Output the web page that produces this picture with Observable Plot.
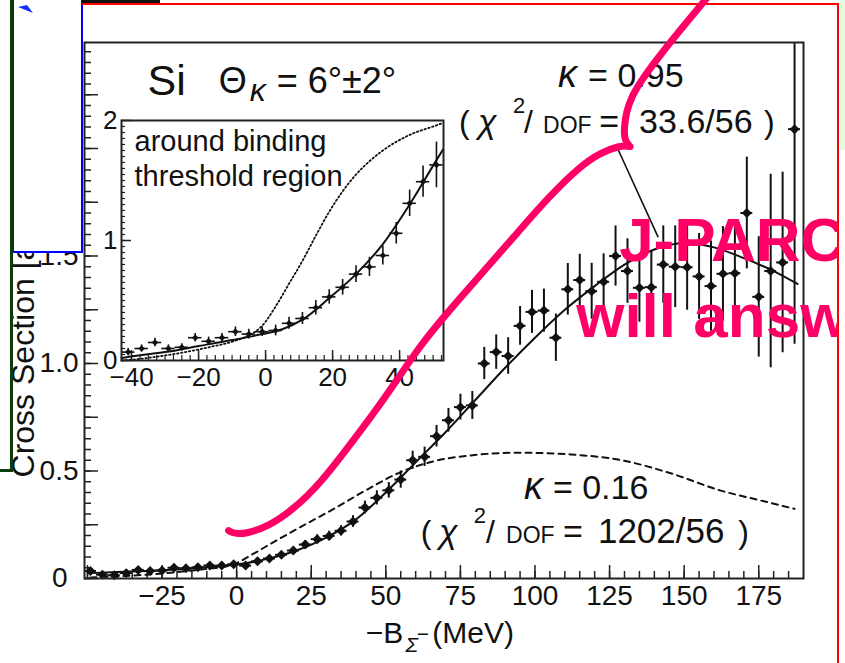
<!DOCTYPE html>
<html><head><meta charset="utf-8">
<script src="https://cdn.jsdelivr.net/npm/d3@7"></script>
<script src="https://cdn.jsdelivr.net/npm/@observablehq/plot@0.6"></script>
<style>
html,body{margin:0;padding:0;background:#fff;}
#wrap{position:relative;width:845px;height:663px;overflow:hidden;background:#fff;}
.deco{position:absolute;box-sizing:border-box;}
</style></head><body><div id="wrap"></div>
<script>
const FONT = "'Liberation Sans', Arial, Helvetica, sans-serif";

// ---- main spectrum (bin centre MeV, cross section, error) ----
const xMain = [-49,-45,-41,-37,-33,-29,-25,-21,-17,-13,-9,-5,-1,3,7,11,15,19,23,27,31,35,39,43,47,51,55,59,63,67,71,75,79,83,87,91,95,99,103,107,111,115,119,123,127,131,135,139,143,147,151,155,159,163,167,171,175,179,183,187];
const yMain = [0.035,0.018,0.015,0.025,0.04,0.035,0.037,0.05,0.048,0.052,0.06,0.06,0.066,0.06,0.08,0.093,0.11,0.13,0.158,0.183,0.198,0.222,0.265,0.33,0.375,0.41,0.46,0.55,0.566,0.662,0.736,0.797,0.805,1.0,1.053,1.035,1.175,1.24,1.246,1.12,1.345,1.388,1.336,1.38,1.5,1.43,1.352,1.355,1.46,1.45,1.448,1.405,1.36,1.417,1.42,1.7,1.31,1.43,1.47,2.09];
const eMain = [0.012,0.01,0.01,0.01,0.011,0.011,0.011,0.012,0.012,0.012,0.012,0.012,0.012,0.013,0.014,0.015,0.015,0.016,0.018,0.02,0.022,0.024,0.027,0.03,0.033,0.036,0.04,0.042,0.045,0.05,0.055,0.06,0.065,0.075,0.08,0.085,0.09,0.1,0.1,0.11,0.12,0.12,0.13,0.13,0.14,0.15,0.16,0.17,0.18,0.19,0.2,0.2,0.21,0.22,0.23,0.26,0.28,0.45,0.42,1.0];

// fit curves (main)
const fitSolidX = [-49,-40,-30,-20,-10,0,10,20,30,40,50,60,70,80,90,100,110,120,130,140,150,160,170,180,188];
const fitSolidY = [0.025,0.03,0.035,0.042,0.052,0.065,0.09,0.13,0.19,0.275,0.4,0.54,0.68,0.83,0.98,1.12,1.25,1.36,1.46,1.53,1.56,1.54,1.49,1.43,1.37];
const fitDashX = [-49,-40,-30,-20,-10,-3,0,5,10,15,21.5,32.7,43.9,55,66,78,95,112,129,146,162,175,187];
const fitDashY = [0.005,0.01,0.018,0.03,0.045,0.058,0.072,0.11,0.15,0.19,0.24,0.325,0.415,0.495,0.545,0.572,0.585,0.577,0.55,0.487,0.41,0.365,0.324];

// ---- inset (threshold region) ----
const xInset = [-41,-37,-33,-29,-25,-21,-17,-13,-9,-5,-1,3,7,11,15,19,23,27,31,35,39,43,47,51];
const yInset = [0.07,0.10,0.15,0.10,0.11,0.19,0.16,0.19,0.24,0.22,0.24,0.25,0.31,0.35,0.44,0.53,0.61,0.72,0.78,0.875,1.06,1.31,1.49,1.63];
const eInset = [0.03,0.03,0.035,0.03,0.03,0.035,0.035,0.035,0.04,0.04,0.04,0.045,0.05,0.05,0.06,0.06,0.065,0.07,0.08,0.08,0.09,0.11,0.13,0.19];
const inSolidX = [-43,-41,-30,-20,-10,-1,5,11,19,27,35,43,51,53];
const inSolidY = [0.02,0.03,0.07,0.12,0.17,0.22,0.26,0.34,0.52,0.72,0.97,1.3,1.67,1.76];
const inDotX = [-43,-37,-33,-25,-17,-9,-5,-1,3,7,11,15,19,23,27,31,35,43,51,53];
const inDotY = [0,0.015,0.03,0.065,0.11,0.165,0.21,0.29,0.45,0.64,0.83,1.04,1.24,1.41,1.55,1.66,1.75,1.88,1.96,1.98];

// tick labels
const xTickLabels = [-25,0,25,50,75,100,125,150,175];
const yTickLabels = [0.5,1.0,1.5,2.0];
const insetXLabels = [-40,-20,0,20,40];
const insetYLabels = [0,1,2];

// annotation pointer line and hand-drawn pink stroke (main-chart coordinates)
const pointerX = [127.7, 141.2];
const pointerY = [2.0, 1.59];
const pinkX = [-2.7,-1.5,0.5,3.0,10.4,19.1,28.2,38.3,49.3,61.7,71.8,81.9,93.0,104.4,115.4,122.1,128.2,131.5,132.3,130.3,129.9,130.0,130.5,132.6,135.6,142.3,151.3,159.7];
const pinkY = [0.223,0.213,0.208,0.209,0.24,0.322,0.445,0.628,0.83,1.09,1.255,1.415,1.59,1.772,1.921,1.981,2.012,2.012,2.005,2.03,2.07,2.1,2.167,2.247,2.316,2.442,2.595,2.735];

const W = 845, H = 663;
const wrap = document.getElementById("wrap");
const zip = (xs, ys) => xs.map((x, i) => ({x, y: ys[i]}));
const mainRows = xMain.map((x, i) => ({x, y: yMain[i], e: eMain[i]}));
const insetRows = xInset.map((x, i) => ({x, y: yInset[i], e: eInset[i]}));
const INK = "#111";

const T = (text, x, y, size, o = {}) => Plot.text([text], {
  x, y, text: d => d, fontSize: size, textAnchor: "start", lineAnchor: "bottom",
  fill: INK, fontFamily: FONT, ...o
});

function place(svg) {
  svg.style.position = "absolute"; svg.style.left = "0px"; svg.style.top = "0px";
  wrap.appendChild(svg);
}

// ---------- main chart ----------
const mL = 84, mR = 42, mT = 42, mB = 85;
const iw = W - mL - mR, ih = H - mT - mB;
const mainPlot = Plot.plot({
  width: W, height: H, marginLeft: mL, marginRight: mR, marginTop: mT, marginBottom: mB,
  x: {domain: [-51, 190]}, y: {domain: [0, 2.493]},
  style: {background: "transparent", overflow: "visible", fontFamily: FONT, color: INK},
  marks: [
    Plot.tickX(d3.range(-50, 190, 5), {x: d => d, insetTop: ih - 7, stroke: "#222", strokeWidth: 1.5}),
    Plot.tickX(d3.range(-50, 190, 25), {x: d => d, insetTop: ih - 13, stroke: "#222", strokeWidth: 1.5}),
    Plot.tickY(d3.range(0, 2.49, 0.05), {y: d => d, insetRight: iw - 7, stroke: "#222", strokeWidth: 1.5}),
    Plot.tickY(d3.range(0, 2.49, 0.25), {y: d => d, insetRight: iw - 14, stroke: "#222", strokeWidth: 1.5}),
    Plot.line(zip(fitDashX, fitDashY), {x: "x", y: "y", stroke: INK, strokeWidth: 2, strokeDasharray: "6,5", curve: "monotone-x"}),
    Plot.line(zip(fitSolidX, fitSolidY), {x: "x", y: "y", stroke: INK, strokeWidth: 2, curve: "monotone-x"}),
    Plot.line(zip(pointerX, pointerY), {x: "x", y: "y", stroke: INK, strokeWidth: 1.6}),
    Plot.ruleX(mainRows, {x: "x", y1: d => d.y - d.e, y2: d => d.y + d.e, stroke: INK, strokeWidth: 2, clip: true}),
    Plot.ruleY(mainRows, {y: "y", x1: d => d.x - 2, x2: d => d.x + 2, stroke: INK, strokeWidth: 2, clip: true}),
    Plot.dot(mainRows, {x: "x", y: "y", symbol: "diamond2", r: 4.5, fill: INK, stroke: "none"}),
    Plot.frame({stroke: "#222", strokeWidth: 2}),
    Plot.axisX({ticks: xTickLabels, tickSize: 0, tickPadding: 7, fontSize: 28, label: null}),
    Plot.axisY({ticks: yTickLabels, tickSize: 0, tickPadding: 6, fontSize: 28, label: null, tickFormat: d3.format(".1f")}),
    Plot.axisY({ticks: [0], tickSize: 0, tickPadding: 17, fontSize: 28, label: null, tickFormat: d => "0"}),
    // axis titles
    T("Cross Section [arb. unit]", -71.5, 0.47, 32, {rotate: -90, lineAnchor: "middle"}),
    T("−B", 43.3, -0.298, 30),
    T("Σ", 56.6, -0.344, 21, {fontStyle: "italic"}),
    T("−", 60.4, -0.29, 21),
    T("(MeV)", 65.6, -0.298, 30),
    // header
    T("Si", -29.9, 2.247, 43),
    T("Θ", -6.0, 2.256, 36),
    T("κ", 4.4, 2.223, 32, {fontStyle: "italic"}),
    T("= 6°±2°", 13.4, 2.256, 36),
    // kappa = 0.95
    T("κ", 107.7, 2.288, 38, {fontStyle: "italic"}),
    T("= 0.95", 117.8, 2.288, 34),
    T("(", 74.5, 2.074, 32),
    T("χ", 80.9, 2.074, 34, {fontStyle: "italic"}),
    T("2", 92.6, 2.167, 22),
    T("/", 96.3, 2.074, 32),
    T("DOF", 102.7, 2.074, 23),
    T("=", 121.5, 2.074, 34),
    T("33.6/56", 134.9, 2.074, 34),
    T(")", 176.8, 2.074, 32),
    // kappa = 0.16
    T("κ", 96.3, 0.372, 38, {fontStyle: "italic"}),
    T("= 0.16", 106.0, 0.372, 34),
    T("(", 61.7, 0.163, 32),
    T("χ", 67.8, 0.163, 34, {fontStyle: "italic"}),
    T("2", 79.5, 0.256, 22),
    T("/", 83.6, 0.163, 32),
    T("DOF", 90.3, 0.163, 23),
    T("=", 109.4, 0.163, 34),
    T("1202/56", 121.1, 0.163, 35),
    T(")", 168.1, 0.163, 32)
  ]
});
place(mainPlot);

// ---------- inset ----------
const nL = 121, nR = W - 443, nT = 120, nB = H - 360;
const niw = W - nL - nR, nih = H - nT - nB;
const insetPlot = Plot.plot({
  width: W, height: H, marginLeft: nL, marginRight: nR, marginTop: nT, marginBottom: nB,
  x: {domain: [-43, 53.1]}, y: {domain: [0, 2]},
  style: {background: "transparent", overflow: "visible", fontFamily: FONT, color: INK},
  marks: [
    Plot.frame({fill: "white", stroke: "none"}),
    Plot.tickX(d3.range(-40, 53, 2.5), {x: d => d, insetTop: nih - 5, stroke: "#222", strokeWidth: 1.2}),
    Plot.tickX(insetXLabels, {x: d => d, insetTop: nih - 10, stroke: "#222", strokeWidth: 1.5}),
    Plot.tickY(d3.range(0, 2, 0.05), {y: d => d, insetRight: niw - 4, stroke: "#222", strokeWidth: 1.2}),
    Plot.tickY(insetYLabels, {y: d => d, insetRight: niw - 10, stroke: "#222", strokeWidth: 1.5}),
    Plot.line(zip(inDotX, inDotY), {x: "x", y: "y", stroke: INK, strokeWidth: 1.8, strokeDasharray: "1.5,2.5", curve: "monotone-x"}),
    Plot.line(zip(inSolidX, inSolidY), {x: "x", y: "y", stroke: INK, strokeWidth: 2, curve: "monotone-x"}),
    Plot.ruleX(insetRows, {x: "x", y1: d => d.y - d.e, y2: d => d.y + d.e, stroke: INK, strokeWidth: 1.6}),
    Plot.ruleY(insetRows, {y: "y", x1: d => d.x - 2, x2: d => d.x + 2, stroke: INK, strokeWidth: 1.6}),
    Plot.dot(insetRows, {x: "x", y: "y", symbol: "diamond2", r: 3, fill: INK, stroke: "none"}),
    Plot.frame({stroke: "#222", strokeWidth: 2}),
    Plot.axisX({ticks: insetXLabels, tickSize: 0, tickPadding: 7, fontSize: 26, label: null}),
    Plot.axisY({ticks: insetYLabels, tickSize: 0, tickPadding: 4, fontSize: 26, label: null, tickFormat: d => String(d)}),
    T("around binding", -39.1, 1.75, 29),
    T("threshold region", -39.1, 1.458, 29)
  ]
});
place(insetPlot);

// ---------- slide decorations ----------
function deco(css) {
  const d = document.createElement("div"); d.className = "deco";
  Object.assign(d.style, css); wrap.appendChild(d); return d;
}
deco({left: "840px", top: "0px", width: "5px", height: "150px", background: "#e2fbe2"});
deco({left: "12px", top: "-6px", width: "71px", height: "259px", background: "#fff", border: "2px solid #0000ff"});
deco({left: "10px", top: "0px", width: "3px", height: "472px", background: "#0b3d0b"});
deco({left: "0px", top: "469px", width: "13px", height: "3px", background: "#0b3d0b"});
deco({left: "82px", top: "0px", width: "78px", height: "3px", background: "#111"});
deco({left: "82px", top: "3px", width: "757px", height: "2px", background: "#ff0000"});
deco({left: "837px", top: "3px", width: "2px", height: "660px", background: "#ff0000"});
const tri = deco({left: "17px", top: "0px", width: "18px", height: "9px"});
tri.innerHTML = '<svg width="18" height="9"><polygon points="1,2 16,8 10,0" fill="#1030ff"/></svg>';

// ---------- pink hand-drawn overlay (same scales as the main chart) ----------
const PINK = "#ff0066";
const pinkPlot = Plot.plot({
  width: 838, height: H, marginLeft: mL, marginRight: 838 - 803, marginTop: mT, marginBottom: mB,
  x: {domain: [-51, 190], axis: null}, y: {domain: [0, 2.493], axis: null},
  style: {background: "transparent", overflow: "hidden", fontFamily: FONT},
  marks: [
    Plot.line(zip(pinkX, pinkY), {x: "x", y: "y", stroke: PINK, strokeWidth: 7, strokeLinecap: "round", strokeLinejoin: "round", curve: "basis"}),
    Plot.text(["J-PARC"], {x: 128.2, y: 1.479, text: d => d, fontSize: 62, fontWeight: "bold", fill: PINK, textAnchor: "start", lineAnchor: "bottom", fontFamily: FONT}),
    Plot.text(["will answer"], {x: 113.8, y: 1.121, text: d => d, fontSize: 62, fontWeight: "bold", fill: PINK, textAnchor: "start", lineAnchor: "bottom", fontFamily: FONT})
  ]
});
place(pinkPlot);
</script></body></html>
